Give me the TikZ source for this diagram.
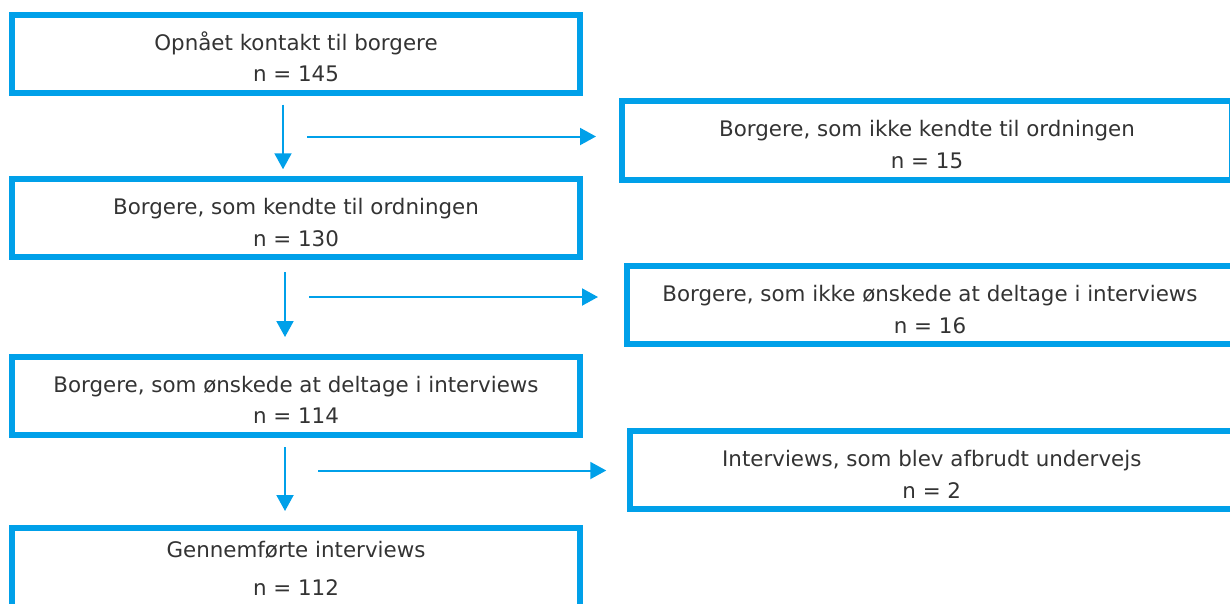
\documentclass[tikz,border=0pt]{standalone}
\usepackage{fontspec}
\setmainfont{DejaVu Sans}
\usetikzlibrary{arrows.meta}
\definecolor{flowblue}{RGB}{0,160,233}
\definecolor{flowtext}{RGB}{51,51,51}
\newcommand{\twolines}[2]{\rule{0pt}{25pt}#1\\#2}

\begin{document}
\begin{tikzpicture}[x=1pt,y=1pt,yscale=-1,xscale=1,
  flowbox/.style={draw=flowblue,line width=6pt,rectangle,minimum height=78pt,inner sep=0pt,
    align=center,text=flowtext,font=\fontsize{21.4pt}{31.6pt}\selectfont},
  mainbox/.style={flowbox,minimum width=568pt},
  flowarrow/.style={draw=flowblue,line width=2pt,-{Triangle[length=16pt,width=17pt]}}]
\useasboundingbox (0,0) rectangle (1230,603);

%Main column
\node[mainbox] (box1) at (296,53.5) {\twolines{Opnået kontakt til borgere}{n = 145}};
\node[mainbox] (box2) at (296,218.25) {\twolines{Borgere, som kendte til ordningen}{n = 130}};
\node[mainbox] (box3) at (296,395.5) {\twolines{Borgere, som ønskede at deltage i interviews}{n = 114}};
\node[mainbox,minimum height=90pt] (box4) at (296,573) {Gennemførte interviews\\[7pt]n = 112\rule[-9.4pt]{0pt}{0pt}};

%Side column
\node[flowbox,minimum width=610pt,minimum height=79.5pt] (boxA) at (927,140.25) {\twolines{Borgere, som ikke kendte til ordningen}{n = 15}};
\node[flowbox,minimum width=606pt] (boxB) at (930,305) {\twolines{Borgere, som ikke ønskede at deltage i interviews}{n = 16}};
\node[flowbox,minimum width=603pt] (boxC) at (931.75,470) {\twolines{Interviews, som blev afbrudt undervejs}{n = 2}};

%Down arrows
\draw[flowarrow,shorten <=9pt,shorten >=7pt] ([xshift=-13pt]box1.south) -- ([xshift=-13pt]box2.north);
\draw[flowarrow,shorten <=12pt,shorten >=16.5pt] ([xshift=-11pt]box2.south) -- ([xshift=-11pt]box3.north);
\draw[flowarrow,shorten <=9.5pt,shorten >=14pt] ([xshift=-11pt]box3.south) -- ([xshift=-11pt]box4.north);

%Side arrows
\coordinate (r1) at (307,136.5);
\coordinate (r2) at (309,297);
\coordinate (r3) at (318,470.5);
\draw[flowarrow,shorten >=23pt] (r1) -- (r1 -| boxA.west);
\draw[flowarrow,shorten >=26pt] (r2) -- (r2 -| boxB.west);
\draw[flowarrow,shorten >=21pt] (r3) -- (r3 -| boxC.west);

\end{tikzpicture}
\end{document}
